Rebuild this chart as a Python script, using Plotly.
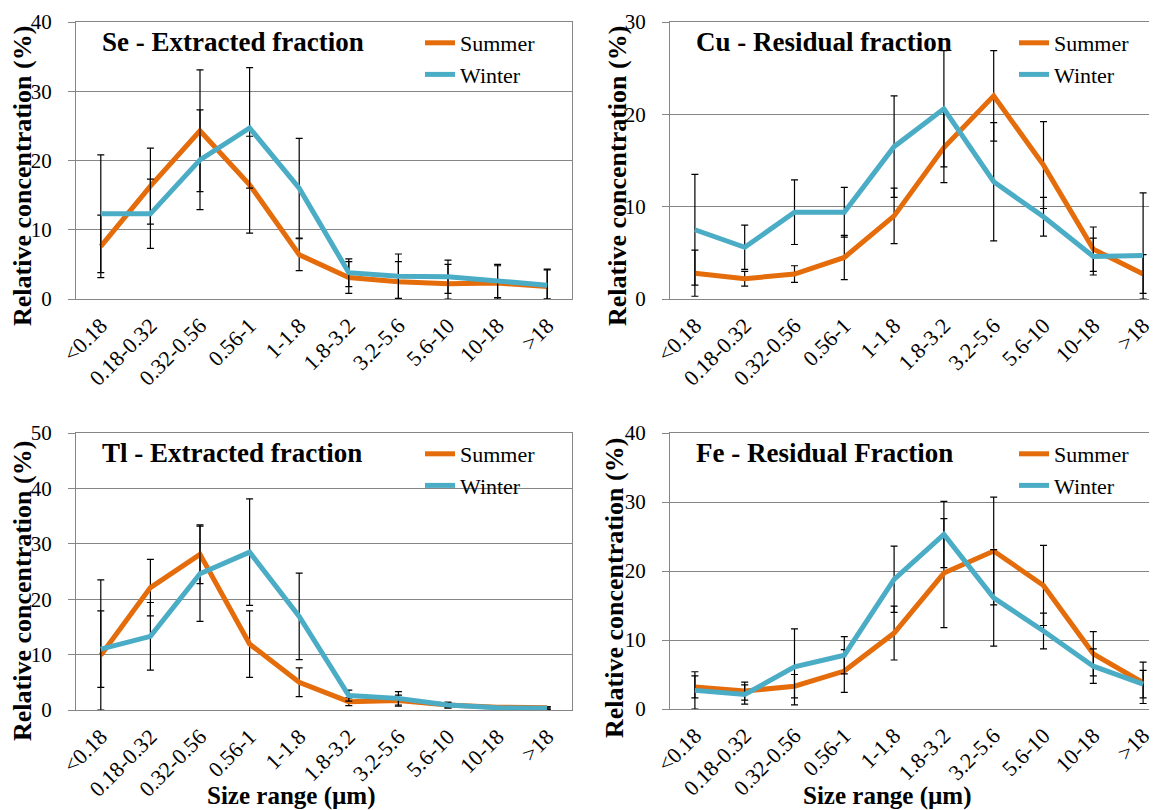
import plotly.graph_objects as go

categories = ["<0.18", "0.18-0.32", "0.32-0.56", "0.56-1", "1-1.8",
              "1.8-3.2", "3.2-5.6", "5.6-10", "10-18", ">18"]

se_summer = [7.6, 16.3, 24.3, 16.5, 6.4, 3.1, 2.5, 2.2, 2.3, 1.8]
se_summer_err = [4.5, 5.5, 8.8, 7.0, 2.3, 2.3, 2.9, 2.8, 2.5, 2.4]
se_winter = [12.3, 12.3, 20.1, 24.7, 16.0, 3.8, 3.3, 3.2, 2.6, 2.0]
se_winter_err = [8.5, 5.0, 7.2, 8.7, 7.2, 2.0, 3.2, 2.4, 2.4, 2.3]

cu_summer = [2.8, 2.2, 2.7, 4.5, 9.0, 16.4, 22.0, 14.5, 5.4, 2.7]
cu_summer_err = [2.5, 0.8, 0.9, 2.4, 3.0, 3.8, 4.9, 4.7, 2.4, 2.1]
cu_winter = [7.5, 5.6, 9.4, 9.4, 16.5, 20.6, 12.7, 8.9, 4.6, 4.7]
cu_winter_err = [6.0, 2.4, 3.5, 2.7, 5.5, 6.3, 6.4, 2.1, 2.0, 6.8]

tl_summer = [9.9, 22.1, 28.1, 11.9, 5.0, 1.5, 1.7, 0.9, 0.5, 0.4]
tl_summer_err = [13.6, 5.1, 5.3, 6.0, 2.6, 0.7, 1.0, 0.5, 0.2, 0.2]
tl_winter = [11.0, 13.3, 24.6, 28.5, 16.9, 2.6, 2.1, 0.9, 0.4, 0.3]
tl_winter_err = [6.9, 6.1, 8.6, 9.6, 7.8, 1.0, 1.2, 0.5, 0.2, 0.2]

fe_summer = [3.2, 2.6, 3.3, 5.5, 11.0, 19.7, 22.9, 17.9, 8.0, 3.8]
fe_summer_err = [1.6, 1.3, 1.7, 3.1, 3.9, 7.9, 7.8, 5.8, 3.2, 3.0]
fe_winter = [2.7, 2.1, 6.1, 7.8, 18.8, 25.3, 16.1, 11.3, 6.2, 3.6]
fe_winter_err = [2.7, 1.4, 5.5, 2.7, 4.8, 4.8, 7.0, 2.6, 2.5, 2.0]

panels = [
    dict(title="Se - Extracted fraction", summer=se_summer, se=se_summer_err,
         winter=se_winter, we=se_winter_err, ymax=40),
    dict(title="Cu - Residual fraction", summer=cu_summer, se=cu_summer_err,
         winter=cu_winter, we=cu_winter_err, ymax=30),
    dict(title="Tl - Extracted fraction", summer=tl_summer, se=tl_summer_err,
         winter=tl_winter, we=tl_winter_err, ymax=50),
    dict(title="Fe - Residual Fraction", summer=fe_summer, se=fe_summer_err,
         winter=fe_winter, we=fe_winter_err, ymax=40),
]

# the page body has an 8px margin: the figure is drawn at (8, 8)
OFF = 8
W, H = 1157 - OFF, 810 - OFF
ORANGE = "#E46C0A"
BLUE = "#4BACC6"
FONT = "Liberation Serif, Times New Roman, serif"
AXC = "#868686"


def px(x):
    return (x - OFF) / W


def py(y):
    return 1 - (y - OFF) / H


# page-pixel boxes (left, right, top, bottom) of each plot area
boxes = [(76, 572, 22, 299), (670, 1168, 22, 299),
         (76, 572, 433, 710), (670, 1168, 433, 709)]

fig = go.Figure()
layout = dict(
    width=W, height=H, margin=dict(l=0, r=0, t=0, b=0, autoexpand=False),
    paper_bgcolor="white", plot_bgcolor="white",
    font=dict(family=FONT, color="black"),
    showlegend=True,
)
annotations = []


def clip_minus(vals, errs):
    return [min(e, v) for v, e in zip(vals, errs)]


for i, p in enumerate(panels):
    n = "" if i == 0 else str(i + 1)
    xa, ya = "x" + n, "y" + n
    leg = "legend" + n
    l, r, t, b = boxes[i]

    for name, vals, errs, col in [("Summer", p["summer"], p["se"], ORANGE),
                                  ("Winter", p["winter"], p["we"], BLUE)]:
        fig.add_trace(go.Scatter(
            x=categories, y=vals, mode="lines", name=name,
            line=dict(color=col, width=5),
            error_y=dict(type="data", array=errs,
                         arrayminus=clip_minus(vals, errs),
                         color="black", thickness=1.2, width=3.5),
            xaxis=xa, yaxis=ya, legend=leg, legendgroup=name + n,
        ))

    # plot area may extend past the page's right edge: cut the range there
    step = (r - l) / 10.0
    r_vis = min(r, 1157)
    xmax = -0.5 + (r_vis - l) / step
    layout["xaxis" + n] = dict(
        domain=[px(l), px(r_vis)], anchor=ya, type="category",
        categoryorder="array", categoryarray=categories,
        range=[-0.5, xmax],
        showline=True, linecolor=AXC, linewidth=1.3, mirror=True,
        showgrid=False, ticks="", tickangle=-45,
        tickfont=dict(family=FONT, size=22, color="black"),
        ticklabelstandoff=4,
    )
    layout["yaxis" + n] = dict(
        domain=[py(b), py(t)], anchor=xa,
        range=[0, p["ymax"]], dtick=10,
        showline=True, linecolor=AXC, linewidth=1.3, mirror=True,
        showgrid=True, gridcolor=AXC, gridwidth=1.2, zeroline=False,
        ticks="outside", ticklen=7, tickcolor=AXC, tickwidth=1.3,
        tickfont=dict(family=FONT, size=21, color="black"),
        ticklabelstandoff=12,
    )
    layout[leg] = dict(
        x=px(l + 344), y=py(t + 0), xanchor="left", yanchor="top",
        bgcolor="rgba(0,0,0,0)", borderwidth=0,
        font=dict(family=FONT, size=22, color="black"),
        tracegroupgap=0, itemwidth=30,
    )
    annotations.append(dict(
        text=p["title"], xref="paper", yref="paper",
        x=px(l + 24), y=py(t + 20), xanchor="left", yanchor="middle",
        showarrow=False, font=dict(family=FONT, size=27, color="black", weight="bold"),
    ))

# y-axis titles
for (cx, cy) in [(22, 176), (617, 176), (22, 591), (614, 588)]:
    annotations.append(dict(
        text="Relative concentration (%)", xref="paper", yref="paper",
        x=px(cx), y=py(cy), xanchor="center", yanchor="middle",
        textangle=-90, showarrow=False,
        font=dict(family=FONT, size=26, color="black", weight="bold"),
    ))
# x-axis titles
for cx in [291, 887]:
    annotations.append(dict(
        text="Size range (µm)", xref="paper", yref="paper",
        x=px(cx), y=py(796), xanchor="center", yanchor="middle",
        showarrow=False,
        font=dict(family=FONT, size=25, color="black", weight="bold"),
    ))

layout["annotations"] = annotations
fig.update_layout(**layout)
fig.write_html("out.html")
